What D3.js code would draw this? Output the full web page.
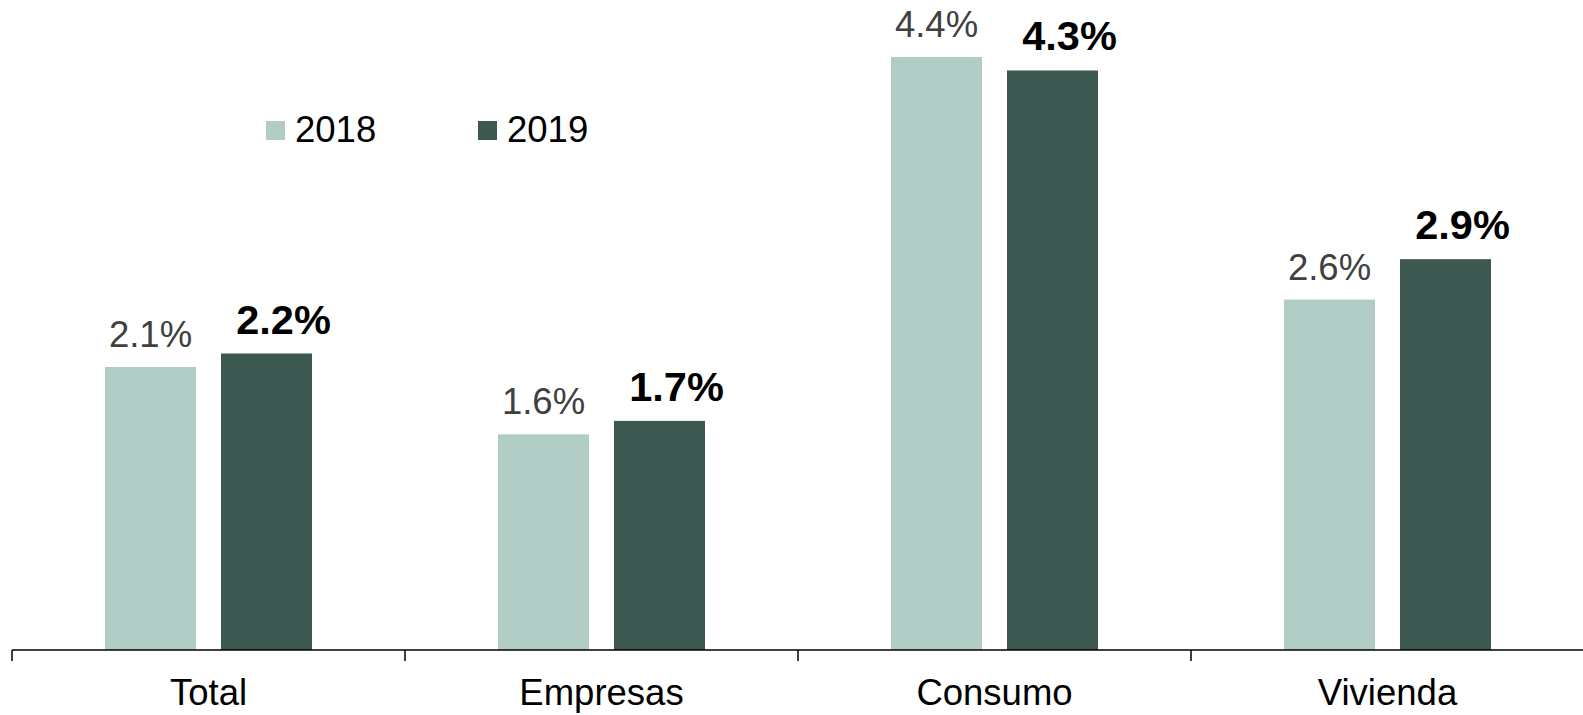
<!DOCTYPE html>
<html>
<head>
<meta charset="utf-8">
<script src="https://cdn.jsdelivr.net/npm/d3@7"></script>
<style>
  html, body { margin: 0; padding: 0; background: #fff; }
  svg { display: block; font-family: Arial, "Liberation Sans", sans-serif; }
</style>
</head>
<body>
<svg id="chart" width="1583" height="715"></svg>
<script>
const categories = ["Total", "Empresas", "Consumo", "Vivienda"];
const series = ["2018", "2019"];
const values2018 = [2.1, 1.6, 4.4, 2.6];
const values2019 = [2.2, 1.7, 4.3, 2.9];
const colors = ["#B0CCC5", "#3D5851"];

const svg = d3.select("#chart");
const baseY = 650;
const x0 = d3.scaleBand().domain(categories).range([12, 1584]).padding(0);
const bw = x0.bandwidth();
const x1 = d3.scaleBand().domain(series).range([bw / 2 - 103.5, bw / 2 + 103.5]).paddingInner(0.2155).paddingOuter(0);
const y = d3.scaleLinear().domain([0, 4.4]).range([baseY, 57]);

const data = categories.map((c, i) => ({ cat: c, vals: [values2018[i], values2019[i]] }));

const groups = svg.selectAll("g.cat").data(data).join("g")
  .attr("class", "cat")
  .attr("transform", d => `translate(${x0(d.cat)},0)`);

groups.selectAll("rect").data(d => d.vals.map((v, j) => ({ s: series[j], v, j }))).join("rect")
  .attr("x", d => x1(d.s))
  .attr("width", x1.bandwidth())
  .attr("y", d => y(d.v))
  .attr("height", d => baseY - y(d.v))
  .attr("fill", d => colors[d.j]);

groups.selectAll("text.lbl").data(d => d.vals.map((v, j) => ({ s: series[j], v, j }))).join("text")
  .attr("class", "lbl")
  .attr("x", d => x1(d.s) + x1.bandwidth() / 2 + (d.j === 0 ? 0 : 17))
  .attr("y", d => y(d.v) - 20)
  .attr("text-anchor", "middle")
  .attr("font-size", d => d.j === 0 ? 36.5 : 41.5)
  .attr("font-weight", d => d.j === 0 ? "normal" : "bold")
  .attr("fill", d => d.j === 0 ? "#404040" : "#000")
  .text(d => d.v.toFixed(1) + "%");

// axis
const axis = d3.axisBottom(x0).tickSize(0).tickPadding(0);
const axG = svg.append("g").attr("transform", `translate(0,${baseY})`).call(axis);
axG.select(".domain").attr("stroke", "#000").attr("stroke-width", 1.5).attr("d", "M12,0H1583");
axG.selectAll(".tick text").attr("font-size", 36.5).attr("fill", "#000").attr("y", 55).attr("dy", 0)
  .attr("font-family", "Arial, 'Liberation Sans', sans-serif");
// boundary ticks
const bounds = categories.map(c => x0(c)).concat([x0(categories[categories.length - 1]) + bw]);
axG.selectAll("line.bound").data(bounds).join("line")
  .attr("class", "bound")
  .attr("x1", d => d).attr("x2", d => d)
  .attr("y1", 0).attr("y2", 11)
  .attr("stroke", "#000").attr("stroke-width", 1.5);

// legend
const legendX = [266, 478];
const leg = svg.selectAll("g.leg").data(series).join("g").attr("class", "leg")
  .attr("transform", (d, i) => `translate(${legendX[i]},121)`);
leg.append("rect").attr("width", 19).attr("height", 19).attr("fill", (d, i) => colors[i]);
leg.append("text").attr("x", 29).attr("y", 21).attr("font-size", 36.5).attr("fill", "#000").text(d => d);
</script>
</body>
</html>
